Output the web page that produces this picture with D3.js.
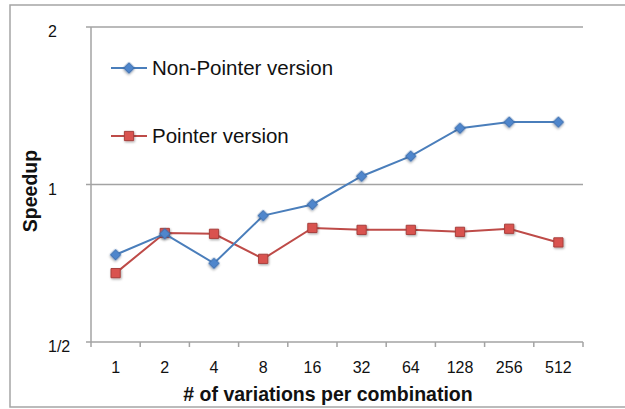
<!DOCTYPE html>
<html>
<head>
<meta charset="UTF-8" />
<title>Speedup</title>
<script src="https://cdn.jsdelivr.net/npm/d3@7"></script>
<style>
body { margin:0; background:#fff; }
text { font-family:"Liberation Sans", Arial, sans-serif; fill:#111; }
</style>
</head>
<body>
<div id="chart"></div>
<script type="text/javascript">
var w=625,h=409;

var categories=['1','2','4','8','16','32','64','128','256','512'];
var nonPointer=[0.734,0.805,0.707,0.872,0.916,1.037,1.133,1.281,1.316,1.316];
var pointer=[0.677,0.808,0.805,0.721,0.826,0.819,0.819,0.812,0.823,0.775];
var yTicks=[0.5,1,2];
var yTickLabels=['1/2','1','2'];
var seriesNames=['Non-Pointer version','Pointer version'];

var svg=d3.select('#chart')
          .append('svg')
          .attr('width',w)
          .attr('height',h);

var defs=svg.append('defs');
var f=defs.append('filter').attr('id','shadow')
          .attr('x','-50%').attr('y','-50%').attr('width','200%').attr('height','200%');
f.append('feDropShadow').attr('dx',0.8).attr('dy',1.2).attr('stdDeviation',0.9)
 .attr('flood-color','#000').attr('flood-opacity',0.35);

// outer chart border
svg.append('rect')
   .attr('x',10).attr('y',5)
   .attr('width',w).attr('height',402)
   .attr('fill','none')
   .attr('stroke','#a5a5a5')
   .attr('stroke-width',1.5);

var x=d3.scaleBand().domain(categories).range([91,583]).padding(0);
var y=d3.scaleLog().base(2).domain([0.5,2]).range([342,27]);

// gridlines
svg.selectAll('.grid')
   .data(yTicks.slice(1))
   .enter()
   .append('line')
   .attr('x1',91).attr('x2',583)
   .attr('y1',function(d){return y(d);})
   .attr('y2',function(d){return y(d);})
   .attr('stroke','#a3a3a3')
   .attr('stroke-width',1.5);

// y axis
svg.append('line')
   .attr('x1',91).attr('x2',91).attr('y1',y(2)).attr('y2',y(0.5))
   .attr('stroke','#a3a3a3').attr('stroke-width',1.5);
svg.selectAll('.ytick')
   .data(yTicks)
   .enter()
   .append('line')
   .attr('x1',86).attr('x2',91)
   .attr('y1',function(d){return y(d);})
   .attr('y2',function(d){return y(d);})
   .attr('stroke','#a3a3a3').attr('stroke-width',1.5);
svg.selectAll('.ylab')
   .data(yTicks)
   .enter()
   .append('text')
   .attr('x',48)
   .attr('y',function(d){return y(d)+10;})
   .attr('font-size','16px')
   .text(function(d,i){return yTickLabels[i];});

// x axis
svg.append('line')
   .attr('x1',91).attr('x2',583).attr('y1',y(0.5)).attr('y2',y(0.5))
   .attr('stroke','#a3a3a3').attr('stroke-width',1.5);
var bounds=categories.map(function(c){return x(c);}).concat([x.range()[1]]);
svg.selectAll('.xtick')
   .data(bounds)
   .enter()
   .append('line')
   .attr('x1',function(d){return d;}).attr('x2',function(d){return d;})
   .attr('y1',y(0.5)).attr('y2',y(0.5)+5)
   .attr('stroke','#a3a3a3').attr('stroke-width',1.5);
svg.selectAll('.xlab')
   .data(categories)
   .enter()
   .append('text')
   .attr('x',function(d){return x(d)+x.bandwidth()/2;})
   .attr('y',373)
   .attr('text-anchor','middle')
   .attr('font-size','16px')
   .text(function(d){return d;});

// axis titles
svg.append('text')
   .attr('x',328).attr('y',401)
   .attr('text-anchor','middle')
   .attr('font-size','19.5px')
   .attr('font-weight','bold')
   .text('# of variations per combination');
svg.append('text')
   .attr('transform','translate(37,191) rotate(-90)')
   .attr('text-anchor','middle')
   .attr('font-size','19.5px')
   .attr('font-weight','bold')
   .text('Speedup');

var line=d3.line()
           .x(function(d,i){return x(categories[i])+x.bandwidth()/2;})
           .y(function(d){return y(d);});

var diamond=d3.symbol().type(d3.symbolSquare).size(56);
var square=d3.symbol().type(d3.symbolSquare).size(85);

// pointer series (drawn first, blue on top)
svg.append('path')
   .datum(pointer)
   .attr('d',line)
   .attr('fill','none')
   .attr('stroke','#be4b48')
   .attr('stroke-width',2);
svg.selectAll('.pm')
   .data(pointer)
   .enter()
   .append('path')
   .attr('d',square)
   .attr('transform',function(d,i){return 'translate('+(x(categories[i])+x.bandwidth()/2)+','+y(d)+')';})
   .attr('fill','#d9534f')
   .attr('stroke','#a8403d')
   .attr('stroke-width',1)
   .attr('filter','url(#shadow)');

svg.append('path')
   .datum(nonPointer)
   .attr('d',line)
   .attr('fill','none')
   .attr('stroke','#4a7ebb')
   .attr('stroke-width',2);
svg.selectAll('.nm')
   .data(nonPointer)
   .enter()
   .append('path')
   .attr('d',diamond)
   .attr('transform',function(d,i){return 'translate('+(x(categories[i])+x.bandwidth()/2)+','+y(d)+') rotate(45)';})
   .attr('fill','#4f86cc')
   .attr('stroke','#3d6fae')
   .attr('stroke-width',1)
   .attr('filter','url(#shadow)');

// legend
var legendY=[68,136];
var legendColors=['#4a7ebb','#be4b48'];
seriesNames.forEach(function(name,i){
  var g=svg.append('g').attr('transform','translate(111,'+legendY[i]+')');
  g.append('line').attr('x1',0).attr('x2',36).attr('y1',0).attr('y2',0)
   .attr('stroke',legendColors[i]).attr('stroke-width',2);
  if(i==0){
    g.append('path').attr('d',diamond).attr('transform','translate(18,0) rotate(45)')
     .attr('fill','#4f86cc').attr('stroke','#3d6fae').attr('stroke-width',1)
     .attr('filter','url(#shadow)');
  }else{
    g.append('path').attr('d',square).attr('transform','translate(18,0)')
     .attr('fill','#d9534f').attr('stroke','#a8403d').attr('stroke-width',1)
     .attr('filter','url(#shadow)');
  }
  g.append('text').attr('x',41).attr('y',7)
   .attr('font-size','20.5px')
   .text(name);
});
</script>
</body>
</html>
